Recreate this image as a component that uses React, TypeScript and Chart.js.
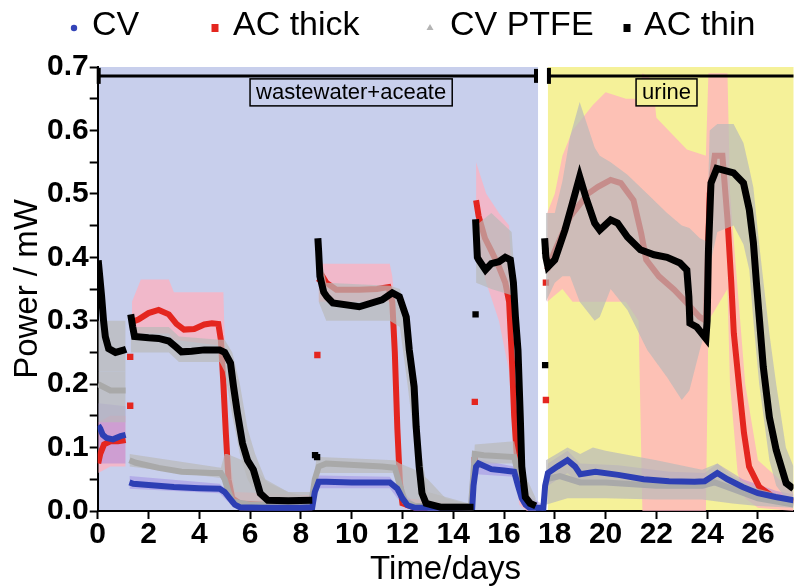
import React, { useEffect, useRef } from 'react';
import { Chart, registerables } from 'chart.js';

Chart.register(...registerables);

// ---------- axes ----------
const X_MIN = 0;
const X_MAX = 27.4;
const X_STEP = 2;
const Y_MIN = 0;
const Y_MAX = 0.7;
const Y_STEP = 0.05;
const X_TITLE = 'Time/days';
const Y_TITLE = 'Power / mW';

// ---------- series names ----------
const SERIES = ['CV', 'AC thick', 'CV PTFE', 'AC thin'];

// ---------- phases (background regions, brackets, labels) ----------
const PHASE_LABELS = ['wastewater+aceate', 'urine'];
const PHASE_FROM = [0, 17.73];
const PHASE_TO = [17.3, 27.4];
const PHASE_LABEL_AT = [9.98, 22.4];
const BRACKET_Y = 0.686;

// ---------- line data: [day, mW]; null = gap ----------
type P = [number, number | null];
type B = [number, number | null, number | null];

const CV_LINE: P[] = [
  [0.02, 0.135], [0.1, 0.13], [0.2, 0.12], [0.35, 0.115], [0.6, 0.113], [0.9, 0.118], [1.1, 0.12], [1.18, null],
  [1.25, 0.045], [1.4, 0.043], [2.0, 0.041], [3.0, 0.038], [4.0, 0.036], [4.8, 0.035], [5.0, 0.03], [5.2, 0.02], [5.4, 0.01], [5.6, 0.006],
  [6.5, 0.005], [8.0, 0.005], [8.45, 0.006], [8.55, 0.03], [8.7, 0.046], [9.0, 0.046], [10.0, 0.045], [11.0, 0.045], [11.5, 0.045],
  [11.8, 0.035], [12.0, 0.02], [12.2, 0.009], [12.5, 0.005], [14.0, 0.005], [14.75, 0.006], [14.8, 0.04], [14.9, 0.07], [15.0, 0.075],
  [15.5, 0.066], [16.0, 0.064], [16.4, 0.062], [16.55, 0.04], [16.7, 0.02], [16.85, 0.01], [17.0, 0.005], [17.55, 0.005], [17.62, 0.04],
  [17.73, 0.06], [18.1, 0.07], [18.5, 0.08], [18.8, 0.07], [19.0, 0.058], [19.6, 0.062], [20.5, 0.057], [21.5, 0.05], [22.5, 0.047],
  [23.5, 0.046], [23.9, 0.047], [24.4, 0.06], [24.8, 0.05], [25.4, 0.038], [26.0, 0.028], [26.7, 0.022], [27.4, 0.017],
];

const AC_THICK_LINE: P[] = [
  [0.02, 0.075], [0.1, 0.09], [0.25, 0.105], [0.5, 0.11], [0.8, 0.11], [1.1, 0.112], [1.18, null],
  [1.35, 0.298], [1.6, 0.302], [2.0, 0.312], [2.4, 0.317], [2.8, 0.31], [3.1, 0.295], [3.4, 0.286], [3.8, 0.287], [4.2, 0.294], [4.5, 0.296],
  [4.75, 0.295], [4.85, 0.27], [4.95, 0.2], [5.05, 0.12], [5.15, 0.05], [5.3, 0.02], [5.6, 0.012], [6.5, 0.01], [7.5, 0.012], [8.0, 0.014],
  [8.5, 0.012], [8.6, null],
  [8.7, 0.36], [8.85, 0.37], [9.0, 0.36], [9.4, 0.349], [10.3, 0.349], [11.0, 0.35], [11.45, 0.353], [11.6, 0.33], [11.7, 0.25], [11.8, 0.13],
  [11.9, 0.045], [12.0, 0.012], [12.5, 0.005], [14.0, 0.005], [14.75, 0.006], [14.82, null],
  [14.9, 0.49], [15.0, 0.465], [15.25, 0.43], [15.5, 0.41], [15.8, 0.385], [16.05, 0.36], [16.2, 0.33], [16.3, 0.25], [16.4, 0.15], [16.5, 0.09],
  [16.6, 0.045], [16.8, 0.017], [17.0, 0.008], [17.25, 0.005], [17.4, null],
  [17.7, 0.38], [18.0, 0.41], [18.6, 0.464], [19.3, 0.5], [19.7, 0.511], [20.2, 0.522], [20.6, 0.517], [21.1, 0.49], [21.4, 0.438], [21.6, 0.396],
  [22.1, 0.37], [22.7, 0.349], [23.2, 0.328], [23.7, 0.306], [23.95, 0.3], [24.1, 0.5], [24.3, 0.56], [24.6, 0.56], [24.8, 0.46], [24.95, 0.36],
  [25.05, 0.28], [25.25, 0.2], [25.45, 0.123], [25.65, 0.07], [26.05, 0.038], [26.6, 0.022], [27.1, 0.017], [27.4, 0.015],
];

// isolated transition points (not joined to the traces)
const AC_THICK_MARKS: P[] = [
  [1.28, 0.243], [1.28, 0.166], [8.65, 0.246], [14.85, 0.172], [14.85, 0.08], [17.65, 0.175], [17.65, 0.36],
];
const AC_THIN_MARKS: P[] = [
  [0.02, 0.38], [8.56, 0.088], [8.64, 0.085], [14.88, 0.31], [17.62, 0.23], [17.62, 0.41],
];

const CV_PTFE_LINE: P[] = [
  [0.02, 0.2], [0.5, 0.19], [1.1, 0.19], [1.18, null],
  [1.25, 0.08], [1.5, 0.076], [2.4, 0.068], [3.3, 0.062], [4.5, 0.06], [4.85, 0.06], [5.0, 0.05], [5.15, 0.03], [5.3, 0.015], [6.0, 0.01],
  [8.4, 0.01], [8.55, 0.05], [8.7, 0.07], [9.0, 0.075], [11.2, 0.07], [11.7, 0.068], [11.9, 0.04], [12.1, 0.015], [12.5, 0.008], [14.7, 0.008],
  [14.85, 0.09], [15.2, 0.088], [16.4, 0.085], [16.6, 0.05], [16.8, 0.015], [17.25, 0.008], [17.4, null],
  [17.65, 0.05], [18.2, 0.055], [19.0, 0.045], [20.0, 0.045], [22.0, 0.04], [23.8, 0.04], [24.3, 0.045], [25.0, 0.035], [26.0, 0.02], [27.4, 0.01],
];

const AC_THIN_LINE: P[] = [
  [0.02, 0.395], [0.08, 0.37], [0.15, 0.34], [0.23, 0.3], [0.3, 0.275], [0.43, 0.256], [0.7, 0.25], [1.05, 0.254], [1.12, 0.255], [1.2, null],
  [1.3, 0.31], [1.38, 0.29], [1.45, 0.275], [2.0, 0.273], [2.4, 0.272], [2.8, 0.268], [3.1, 0.258], [3.3, 0.251], [3.7, 0.252], [4.2, 0.254],
  [4.8, 0.254], [5.0, 0.25], [5.23, 0.233], [5.35, 0.196], [5.5, 0.155], [5.7, 0.107], [5.9, 0.08], [6.13, 0.065], [6.4, 0.028], [6.7, 0.017],
  [7.5, 0.016], [8.45, 0.017], [8.5, null],
  [8.67, 0.43], [8.7, 0.41], [8.75, 0.37], [8.9, 0.345], [9.02, 0.338], [9.26, 0.328], [10.3, 0.322], [11.2, 0.333], [11.6, 0.344], [11.88, 0.338],
  [12.15, 0.306], [12.27, 0.254], [12.46, 0.196], [12.54, 0.133], [12.66, 0.07], [12.77, 0.028], [12.93, 0.012], [13.5, 0.006], [14.8, 0.006], [14.84, null],
  [14.88, 0.46], [14.95, 0.4], [15.0, 0.396], [15.27, 0.38], [15.5, 0.39], [15.8, 0.393], [16.05, 0.4], [16.25, 0.396], [16.37, 0.36], [16.45, 0.306],
  [16.55, 0.254], [16.64, 0.149], [16.7, 0.07], [16.84, 0.022], [17.03, 0.012], [17.25, 0.008], [17.4, null],
  [17.6, 0.43], [17.65, 0.4], [17.73, 0.385], [18.0, 0.396], [18.4, 0.443], [18.7, 0.486], [18.98, 0.527], [19.22, 0.495], [19.57, 0.454], [19.77, 0.443],
  [20.2, 0.459], [20.47, 0.454], [20.86, 0.432], [21.37, 0.412], [21.91, 0.404], [22.42, 0.4], [22.93, 0.391], [23.2, 0.38], [23.28, 0.338], [23.32, 0.296],
  [23.59, 0.29], [23.95, 0.272], [24.0, 0.3], [24.05, 0.41], [24.15, 0.517], [24.38, 0.54], [25.04, 0.533], [25.43, 0.517], [25.66, 0.475], [25.82, 0.423],
  [25.94, 0.36], [26.05, 0.306], [26.21, 0.227], [26.45, 0.148], [26.72, 0.096], [27.11, 0.044], [27.4, 0.035],
];

// ---------- error bands: [day, low, high]; null = gap ----------
const CV_BAND: B[] = [
  [0.02, 0.075, 0.17], [1.1, 0.075, 0.165], [1.18, null, null],
  [1.25, 0.035, 0.055], [4.8, 0.028, 0.043], [5.2, 0.012, 0.028], [5.6, 0.0, 0.012], [8.45, 0.0, 0.012], [8.7, 0.036, 0.056], [11.5, 0.036, 0.054],
  [12.0, 0.01, 0.03], [12.5, 0.0, 0.012], [14.75, 0.0, 0.012], [14.9, 0.058, 0.082], [16.4, 0.054, 0.07], [16.7, 0.01, 0.03], [17.55, 0.0, 0.01],
  [17.73, 0.04, 0.075], [18.5, 0.06, 0.095], [19.0, 0.042, 0.075], [20.5, 0.042, 0.072], [22.5, 0.035, 0.062], [23.9, 0.035, 0.06], [24.4, 0.045, 0.075],
  [25.4, 0.025, 0.05], [26.7, 0.012, 0.032], [27.4, 0.008, 0.026],
];

const AC_THICK_BAND: B[] = [
  [0.02, 0.06, 0.14], [0.5, 0.07, 0.15], [1.1, 0.07, 0.15], [1.18, null, null],
  [1.35, 0.27, 0.33], [1.7, 0.28, 0.365], [2.8, 0.28, 0.365], [3.0, 0.27, 0.345], [4.95, 0.26, 0.345], [4.98, 0.15, 0.3], [5.15, 0.02, 0.1],
  [5.4, 0.005, 0.03], [8.5, 0.005, 0.025], [8.6, null, null],
  [8.7, 0.33, 0.39], [11.5, 0.33, 0.39], [11.6, 0.3, 0.37], [11.75, 0.18, 0.3], [11.9, 0.02, 0.1], [12.1, 0.003, 0.02], [14.75, 0.0, 0.01], [14.82, null, null],
  [14.9, 0.42, 0.55], [15.3, 0.36, 0.5], [15.8, 0.3, 0.47], [16.2, 0.22, 0.45], [16.4, 0.08, 0.3], [16.6, 0.01, 0.12], [16.9, 0.0, 0.03], [17.25, 0.0, 0.01], [17.4, null, null],
  [17.7, 0.33, 0.47], [18.0, 0.34, 0.5], [18.3, 0.35, 0.56], [18.7, 0.33, 0.6], [19.5, 0.33, 0.64], [20.0, 0.33, 0.66], [20.8, 0.33, 0.65], [21.3, 0.3, 0.65],
  [21.45, 0.0, 0.69], [21.85, 0.0, 0.68], [22.0, 0.0, 0.62], [23.2, 0.0, 0.57], [23.95, 0.0, 0.56], [24.05, 0.3, 0.69], [24.8, 0.35, 0.69], [24.9, 0.2, 0.5],
  [25.2, 0.06, 0.35], [25.5, 0.02, 0.2], [26.0, 0.005, 0.08], [27.4, 0.0, 0.03],
];

const CV_PTFE_BAND: B[] = [
  [0.02, 0.14, 0.22], [1.1, 0.14, 0.22], [1.18, null, null],
  [1.25, 0.07, 0.09], [4.85, 0.052, 0.068], [5.0, 0.04, 0.09], [5.1, 0.02, 0.09], [6.0, 0.01, 0.075], [6.7, 0.005, 0.045], [7.5, 0.005, 0.03],
  [8.45, 0.005, 0.02], [8.6, 0.05, 0.08], [8.75, 0.06, 0.085], [11.7, 0.06, 0.08], [11.9, 0.02, 0.075], [12.5, 0.008, 0.065], [13.0, 0.005, 0.05],
  [13.7, 0.003, 0.02], [14.7, 0.0, 0.01], [14.85, 0.075, 0.105], [16.4, 0.075, 0.11], [16.6, 0.02, 0.07], [16.9, 0.003, 0.02], [17.25, 0.0, 0.01], [17.4, null, null],
  [17.65, 0.01, 0.08], [18.5, 0.02, 0.1], [19.0, 0.02, 0.09], [19.5, 0.02, 0.1], [20.0, 0.02, 0.095], [22.0, 0.018, 0.08], [23.8, 0.018, 0.065],
  [24.4, 0.015, 0.075], [25.0, 0.012, 0.055], [26.0, 0.008, 0.035], [27.4, 0.005, 0.02],
];

const AC_THIN_BAND: B[] = [
  [0.02, 0.22, 0.3], [1.1, 0.22, 0.3], [1.18, null, null],
  [1.3, 0.25, 0.29], [2.8, 0.25, 0.29], [3.2, 0.235, 0.275], [4.8, 0.235, 0.27], [5.0, 0.22, 0.27], [5.3, 0.15, 0.25], [5.6, 0.09, 0.2], [5.9, 0.05, 0.13],
  [6.2, 0.03, 0.09], [6.6, 0.01, 0.05], [7.5, 0.005, 0.03], [8.5, 0.005, 0.03], [8.6, null, null],
  [8.7, 0.33, 0.42], [9.0, 0.3, 0.36], [11.5, 0.3, 0.355], [11.9, 0.29, 0.35], [12.2, 0.2, 0.3], [12.5, 0.1, 0.2], [12.7, 0.02, 0.1], [13.0, 0.0, 0.03],
  [14.8, 0.0, 0.01], [14.84, null, null],
  [14.9, 0.36, 0.45], [15.5, 0.35, 0.47], [16.3, 0.34, 0.44], [16.45, 0.22, 0.35], [16.6, 0.07, 0.2], [16.8, 0.01, 0.06], [17.25, 0.0, 0.02], [17.4, null, null],
  [17.65, 0.33, 0.47], [18.0, 0.36, 0.47], [18.3, 0.37, 0.52], [18.6, 0.37, 0.59], [18.98, 0.33, 0.645], [19.57, 0.3, 0.573], [19.77, 0.306, 0.56],
  [20.2, 0.35, 0.55], [20.86, 0.317, 0.53], [21.64, 0.254, 0.5], [22.42, 0.211, 0.47], [23.0, 0.175, 0.45], [23.3, 0.19, 0.446], [23.71, 0.254, 0.43],
  [23.98, 0.29, 0.425], [24.1, 0.385, 0.6], [24.4, 0.44, 0.61], [25.04, 0.45, 0.61], [25.43, 0.42, 0.58], [25.66, 0.38, 0.54], [25.82, 0.3, 0.51],
  [26.05, 0.2, 0.42], [26.45, 0.08, 0.28], [26.72, 0.04, 0.2], [27.1, 0.02, 0.1], [27.4, 0.01, 0.07],
];

// ---------- styles ----------
const FONT = '"Liberation Sans", Arial, Helvetica, sans-serif';
const BG_COLORS = ['#c8cfec', '#f5f199'];
const LINE_COLORS = ['#2d3fb4', '#e4261f', '#a9a9a9', '#000000'];
const LEGEND_MARK_COLORS = ['#3344b8', '#e4261f', '#b4b4b4', '#000000'];
const BAND_COLORS = ['rgba(140,110,225,0.35)', 'rgba(255,176,190,0.74)', 'rgba(185,185,185,0.7)', 'rgba(185,185,185,0.7)'];
const LEGEND_MARK_X = [74, 215, 430, 627];
const LEGEND_TEXT_X = [92, 233, 450, 644];

const pts = (a: P[]) => a.map(([x, y]) => ({ x, y }));
const bandPts = (a: B[], i: 1 | 2) => a.map((r) => ({ x: r[0], y: r[i] }));

function lineDs(label: string, data: P[], color: string, width: number, order: number) {
  return {
    label, data: pts(data), borderColor: color, backgroundColor: color, borderWidth: width,
    pointRadius: 0, fill: false, tension: 0, spanGaps: false, order, borderCapStyle: 'butt', borderJoinStyle: 'miter',
  };
}
function marksDs(label: string, data: P[], color: string, order: number) {
  return {
    label, data: pts(data), showLine: false, pointStyle: 'rect', pointRadius: 4.5, pointBorderWidth: 0,
    pointBackgroundColor: color, borderColor: color, backgroundColor: color, fill: false, order,
  };
}
function bandDs(data: B[], color: string, order: number) {
  return [
    { label: '_hi', data: bandPts(data, 2), borderWidth: 0, pointRadius: 0, fill: '+1', backgroundColor: color, borderColor: 'transparent', order, spanGaps: false, tension: 0 },
    { label: '_lo', data: bandPts(data, 1), borderWidth: 0, pointRadius: 0, fill: false, backgroundColor: 'transparent', borderColor: 'transparent', order, spanGaps: false, tension: 0 },
  ];
}

const backgroundPlugin = {
  id: 'phaseBackground',
  beforeDraw(chart: any) {
    const { ctx, chartArea: a, scales: { x } } = chart;
    ctx.save();
    ctx.fillStyle = '#ffffff';
    ctx.fillRect(a.left, a.top, a.right - a.left, a.bottom - a.top);
    PHASE_FROM.forEach((from, i) => {
      const x0 = Math.max(a.left, x.getPixelForValue(from));
      const x1 = Math.min(a.right, x.getPixelForValue(i === 0 ? PHASE_TO[i] + 0.04 : PHASE_TO[i]));
      ctx.fillStyle = BG_COLORS[i];
      ctx.fillRect(x0, a.top, x1 - x0, a.bottom - a.top);
    });
    ctx.restore();
  },
};

const annotationPlugin = {
  id: 'phaseAnnotations',
  afterDatasetsDraw(chart: any) {
    const { ctx, chartArea: a, scales: { x, y } } = chart;
    ctx.save();
    const yb = y.getPixelForValue(BRACKET_Y);
    PHASE_FROM.forEach((from, i) => {
      const x0 = x.getPixelForValue(from);
      const x1 = Math.min(a.right + 2, x.getPixelForValue(PHASE_TO[i]));
      ctx.strokeStyle = '#000';
      ctx.lineWidth = 3;
      ctx.beginPath(); ctx.moveTo(x0, yb); ctx.lineTo(x1, yb); ctx.stroke();
      ctx.lineWidth = 4;
      ctx.beginPath(); ctx.moveTo(x0 + 1, yb - 8); ctx.lineTo(x0 + 1, yb + 8); ctx.stroke();
      if (PHASE_TO[i] < X_MAX) { ctx.beginPath(); ctx.moveTo(x1 - 1, yb - 7); ctx.lineTo(x1 - 1, yb + 7); ctx.stroke(); }
      ctx.font = `22px ${FONT}`;
      const tw = ctx.measureText(PHASE_LABELS[i]).width;
      const cx = x.getPixelForValue(PHASE_LABEL_AT[i]);
      const bw = tw + 12, bh = 27, bt = yb + 3;
      ctx.fillStyle = BG_COLORS[i];
      ctx.fillRect(cx - bw / 2, bt, bw, bh);
      ctx.lineWidth = 1.5;
      ctx.strokeRect(cx - bw / 2, bt, bw, bh);
      ctx.fillStyle = '#000';
      ctx.textAlign = 'center';
      ctx.textBaseline = 'middle';
      ctx.fillText(PHASE_LABELS[i], cx, bt + bh / 2 + 1);
    });
    ctx.restore();
  },
};

const legendPlugin = {
  id: 'topLegend',
  afterDraw(chart: any) {
    const { ctx } = chart;
    ctx.save();
    const cy = 26;
    SERIES.forEach((name, i) => {
      const mx = LEGEND_MARK_X[i];
      ctx.fillStyle = LEGEND_MARK_COLORS[i];
      ctx.beginPath();
      if (i === 0) ctx.arc(mx, cy + 2, 3.2, 0, Math.PI * 2);
      else if (i === 2) { ctx.moveTo(mx, cy - 2); ctx.lineTo(mx + 3.5, cy + 4); ctx.lineTo(mx - 3.5, cy + 4); ctx.closePath(); }
      else ctx.rect(mx - 3.5, cy - 2, 7, 8);
      ctx.fill();
      ctx.fillStyle = '#000';
      ctx.font = `34px ${FONT}`;
      ctx.textAlign = 'left';
      ctx.textBaseline = 'middle';
      ctx.fillText(name, LEGEND_TEXT_X[i], cy);
    });
    ctx.restore();
  },
};

export default function App() {
  const ref = useRef<HTMLCanvasElement>(null);
  useEffect(() => {
    const datasets: any[] = [
      marksDs(SERIES[3] + ' marks', AC_THIN_MARKS, LINE_COLORS[3], 0),
      lineDs(SERIES[3], AC_THIN_LINE, LINE_COLORS[3], 7, 0),
      lineDs(SERIES[0], CV_LINE, LINE_COLORS[0], 6, 1),
      lineDs(SERIES[2], CV_PTFE_LINE, LINE_COLORS[2], 6, 2),
      ...bandDs(AC_THIN_BAND, BAND_COLORS[3], 3),
      ...bandDs(CV_PTFE_BAND, BAND_COLORS[2], 4),
      marksDs(SERIES[1] + ' marks', AC_THICK_MARKS, LINE_COLORS[1], 5),
      lineDs(SERIES[1], AC_THICK_LINE, LINE_COLORS[1], 6, 5),
      ...bandDs(CV_BAND, BAND_COLORS[0], 6),
      ...bandDs(AC_THICK_BAND, BAND_COLORS[1], 7),
    ];
    const tickFont = { family: FONT, size: 30, weight: 'bold' as const, lineHeight: 1 };
    const titleFont = { family: FONT, size: 33, lineHeight: 1 };
    const chart = new Chart(ref.current as HTMLCanvasElement, {
      type: 'line',
      data: { datasets },
      options: {
        responsive: false,
        animation: false,
        events: [],
        layout: { padding: { top: 67, left: 11, right: 0, bottom: 1 } },
        plugins: { legend: { display: false }, tooltip: { enabled: false } },
        scales: {
          x: {
            type: 'linear', min: X_MIN, max: X_MAX,
            border: { display: true, color: '#000', width: 2 },
            grid: { display: true, drawOnChartArea: false, drawTicks: true, tickLength: 8, tickWidth: 2, tickColor: '#000' },
            ticks: { stepSize: X_STEP, includeBounds: false, autoSkip: false, maxRotation: 0, padding: 1, color: '#000', font: tickFont, callback: (v: any) => String(v) },
            title: { display: true, text: X_TITLE, color: '#000', font: titleFont, padding: { top: 2, bottom: 0 } },
          },
          y: {
            type: 'linear', min: Y_MIN, max: Y_MAX,
            border: { display: true, color: '#000', width: 2 },
            grid: { display: true, drawOnChartArea: false, drawTicks: true, tickLength: 8, tickWidth: 2, tickColor: '#000' },
            ticks: {
              stepSize: Y_STEP, autoSkip: false, padding: 1, color: '#000', font: tickFont,
              callback: (v: any) => (Math.abs(Math.round(Number(v) * 100)) % 10 === 0 ? Number(v).toFixed(1) : ''),
            },
            title: { display: true, text: Y_TITLE, color: '#000', font: titleFont, padding: { top: 0, bottom: 2 } },
          },
        },
      } as any,
      plugins: [backgroundPlugin, annotationPlugin, legendPlugin],
    });
    return () => chart.destroy();
  }, []);
  return (
    <div style={{ position: 'absolute', left: 0, top: 0, width: 798, height: 587, background: '#fff' }}>
      <canvas ref={ref} width={798} height={587} />
    </div>
  );
}
